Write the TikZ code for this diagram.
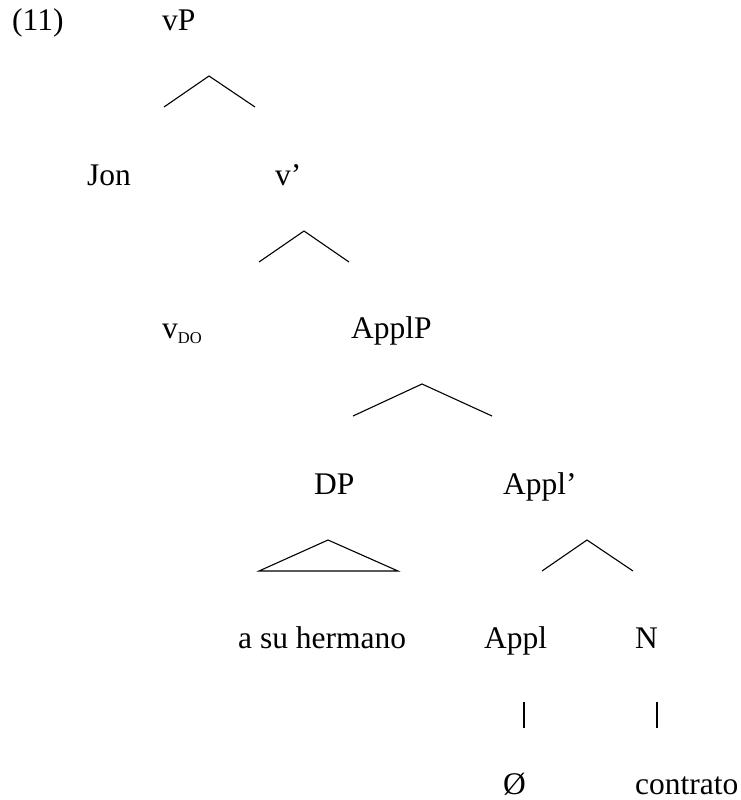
\documentclass[tikz,border=0pt]{standalone}
\usepackage{fontspec}
\setmainfont{Liberation Serif}
\begin{document}
\begin{tikzpicture}[x=1pt,y=-1pt,
  lbl/.style={inner sep=0pt,anchor=base west,font=\fontsize{31.5}{38}\selectfont},
  branch/.style={line width=1.1pt,line join=miter}]
\useasboundingbox (0,0) rectangle (741,800);

% labels
\node[lbl] (ex)    at (12,31)  {(11)};
\node[lbl] (vP)    at (162,31) {vP};
\node[lbl] (Jon)   at (87,185) {Jon};
\node[lbl] (vbar)  at (275,185) {v’};
\node[lbl] (vDO)   at (162,338) {v\raisebox{-5pt}{\fontsize{16.5}{18}\selectfont DO}};
\node[lbl] (ApplP) at (351,338) {ApplP};
\node[lbl] (DP)    at (314,494) {DP};
\node[lbl] (Applb) at (503,494) {Appl’};
\node[lbl] (hermano) at (238,648) {a su hermano};
\node[lbl] (Appl)  at (484,648) {Appl};
\node[lbl] (N)     at (635,648) {N};
\node[lbl] (null)  at (503,794) {Ø};
\node[lbl] (contrato) at (635,794) {contrato};

% branching points
\coordinate (t1) at (209,76);  \coordinate (t1l) at (164,107); \coordinate (t1r) at (255,107);
\coordinate (t2) at (304,231); \coordinate (t2l) at (259,262); \coordinate (t2r) at (349,262);
\coordinate (t3) at (422,384); \coordinate (t3l) at (353,416); \coordinate (t3r) at (492,416);
\coordinate (t4) at (328,540); \coordinate (t4l) at (259,571); \coordinate (t4r) at (398,571);
\coordinate (t5) at (587,540); \coordinate (t5l) at (542,571); \coordinate (t5r) at (633,571);
\coordinate (b1t) at (524,702); \coordinate (b1b) at (524,728);
\coordinate (b2t) at (657,702); \coordinate (b2b) at (657,728);

% branches
\draw[branch] (t1l) -- (t1) -- (t1r);
\draw[branch] (t2l) -- (t2) -- (t2r);
\draw[branch] (t3l) -- (t3) -- (t3r);
\draw[branch] (t4l) -- (t4) -- (t4r) -- cycle;
\draw[branch] (t5l) -- (t5) -- (t5r);
\draw[branch] (b1t) -- (b1b);
\draw[branch] (b2t) -- (b2b);
\end{tikzpicture}
\end{document}
